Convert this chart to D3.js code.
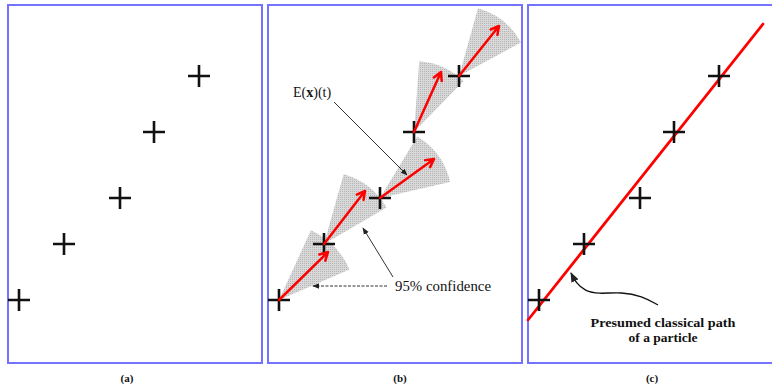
<!DOCTYPE html>
<html><head><meta charset="utf-8">
<script src="https://cdn.jsdelivr.net/npm/d3@7"></script>
<style>html,body{margin:0;padding:0;background:#fff;}svg{display:block;}</style>
</head><body>
<svg id="chart" width="772" height="386"></svg>
<script>
// ---- data (panel-local units: x to the right, y upward from panel bottom) ----
const panelLabels = ["(a)", "(b)", "(c)"];
const obsX = [11, 56, 112, 146, 191];
const obsY = [63, 119, 165, 231, 287];
// predicted next positions E(x)(t) (arrow tips) in panel (b)
const predX = [60, 97, 166, 173, 231];
const predY = [111, 172, 204, 291, 337];
// 95% confidence cone half-angles (degrees) and reach factor
const coneHalfAngle = [21, 22, 23, 20, 23];
const coneReach = [1.12, 1.08, 1.08, 1.08, 1.1];
// presumed classical path (panel c)
const pathX = [0, 235];
const pathY = [43, 339];
// annotation anchors (panel b / c local units)
const eLabel = {text: "E(x)(t)", x: 25, y: 266};
const eLeader = {x: [66, 139], y: [261, 188]};
const confLabel = {text: "95% confidence", x: 127, y: 72};
const confLeaderH = {x: [119, 45], y: [77, 77]};
const confLeaderD = {x: [125, 95], y: [86, 135]};
const curveX = [130, 114, 94, 70, 57, 48, 43];
const curveY = [58, 67, 71, 69, 72, 80, 90];
const captionLines = ["Presumed classical path", "of a particle"];
const captionWidths = [145, 69];

// ---- layout ----
const svg = d3.select("#chart");
const panelLeft = [8, 268, 528];
const panelW = 254, panelTop = 5, panelH = 358;
const x = d3.scaleLinear().domain([0, 254]).range([0, panelW]);
const y = d3.scaleLinear().domain([0, 358]).range([panelH, 0]);

const defs = svg.append("defs");
const pat = defs.append("pattern").attr("id", "stip").attr("width", 2).attr("height", 2)
  .attr("patternUnits", "userSpaceOnUse");
pat.append("rect").attr("width", 2).attr("height", 2).attr("fill", "#d9d9d9");
pat.append("rect").attr("width", 1).attr("height", 1).attr("fill", "#b4b4b4");
defs.append("marker").attr("id", "ah").attr("viewBox", "0 0 10 10").attr("refX", 9).attr("refY", 5)
  .attr("markerWidth", 7).attr("markerHeight", 7).attr("orient", "auto-start-reverse")
  .append("path").attr("d", "M0,1 L10,5 L0,9 z").attr("fill", "#222");

const panels = panelLeft.map((l, i) => svg.append("g").attr("transform", `translate(${l},${panelTop})`));

panels.forEach((g, i) => {
  g.append("rect").attr("x", 0).attr("y", 0).attr("width", panelW).attr("height", panelH)
    .attr("fill", "none").attr("stroke", "#7373ff").attr("stroke-width", 2);
  svg.append("text").attr("x", [127, 400, 652][i]).attr("y", 382)
    .attr("text-anchor", "middle").attr("font-family", "Liberation Serif")
    .attr("font-weight", "bold").attr("font-size", 11).attr("fill", "#111").text(panelLabels[i]);
});

function drawCrosses(g) {
  const s = 11;
  obsX.forEach((vx, i) => {
    const cx = x(vx), cy = y(obsY[i]);
    g.append("path").attr("d", `M${cx - s},${cy}H${cx + s}M${cx},${cy - s}V${cy + s}`)
      .attr("stroke", "#111").attr("stroke-width", 2.6).attr("fill", "none");
  });
}

// ---- panel (b): cones, arrows ----
const gb = panels[1];
obsX.forEach((vx, i) => {
  const ax = x(vx), ay = y(obsY[i]);
  const tx = x(predX[i]), ty = y(predY[i]);
  const th = Math.atan2(ty - ay, tx - ax);
  const L = Math.hypot(tx - ax, ty - ay);
  const R = L * coneReach[i];
  const h = coneHalfAngle[i] * Math.PI / 180;
  const p = d3.path();
  p.moveTo(ax, ay);
  p.lineTo(ax + R * Math.cos(th - h), ay + R * Math.sin(th - h));
  p.arc(ax, ay, R, th - h, th + h);
  p.closePath();
  gb.append("path").attr("d", p.toString()).attr("fill", "url(#stip)");
});
drawCrosses(gb);
obsX.forEach((vx, i) => {
  const ax = x(vx), ay = y(obsY[i]);
  const tx = x(predX[i]), ty = y(predY[i]);
  const th = Math.atan2(ty - ay, tx - ax);
  const hl = 9, ha = 0.5;
  gb.append("path")
    .attr("d", `M${ax},${ay}L${tx},${ty}M${tx - hl * Math.cos(th - ha)},${ty - hl * Math.sin(th - ha)}L${tx},${ty}L${tx - hl * Math.cos(th + ha)},${ty - hl * Math.sin(th + ha)}`)
    .attr("stroke", "#ff0000").attr("stroke-width", 2.5).attr("fill", "none")
    .attr("stroke-linecap", "round").attr("stroke-linejoin", "round");
});
// annotations in (b)
const et = gb.append("text").attr("x", x(eLabel.x)).attr("y", y(eLabel.y))
  .attr("font-family", "Liberation Serif").attr("font-size", 14).attr("fill", "#111");
et.append("tspan").text("E(");
et.append("tspan").attr("font-weight", "bold").text("x");
et.append("tspan").text(")(t)");
gb.append("line").attr("x1", x(eLeader.x[0])).attr("y1", y(eLeader.y[0]))
  .attr("x2", x(eLeader.x[1])).attr("y2", y(eLeader.y[1]))
  .attr("stroke", "#333").attr("stroke-width", 1).attr("marker-end", "url(#ah)");
gb.append("text").attr("x", x(confLabel.x)).attr("y", y(confLabel.y))
  .attr("font-family", "Liberation Serif").attr("font-size", 14).attr("fill", "#111")
  .attr("textLength", 96).attr("lengthAdjust", "spacingAndGlyphs").text(confLabel.text);
gb.append("line").attr("x1", x(confLeaderH.x[0])).attr("y1", y(confLeaderH.y[0]))
  .attr("x2", x(confLeaderH.x[1])).attr("y2", y(confLeaderH.y[1]))
  .attr("stroke", "#333").attr("stroke-width", 1).attr("stroke-dasharray", "3,1.5")
  .attr("marker-end", "url(#ah)");
gb.append("line").attr("x1", x(confLeaderD.x[0])).attr("y1", y(confLeaderD.y[0]))
  .attr("x2", x(confLeaderD.x[1])).attr("y2", y(confLeaderD.y[1]))
  .attr("stroke", "#333").attr("stroke-width", 1).attr("marker-end", "url(#ah)");

// ---- panel (a) ----
drawCrosses(panels[0]);

// ---- panel (c) ----
const gc = panels[2];
gc.append("line").attr("x1", x(pathX[0])).attr("y1", y(pathY[0]))
  .attr("x2", x(pathX[1])).attr("y2", y(pathY[1]))
  .attr("stroke", "#ff0000").attr("stroke-width", 2.8).attr("stroke-linecap", "round");
drawCrosses(gc);
const curvePts = curveX.map((v, i) => [x(v), y(curveY[i])]);
gc.append("path").attr("d", d3.line().curve(d3.curveBasis)(curvePts))
  .attr("fill", "none").attr("stroke", "#111").attr("stroke-width", 1.4).attr("marker-end", "url(#ah)");
captionLines.forEach((t, i) => {
  gc.append("text").attr("x", 135).attr("y", 322 + i * 15).attr("text-anchor", "middle")
    .attr("font-family", "Liberation Serif").attr("font-weight", "bold").attr("font-size", 13)
    .attr("textLength", captionWidths[i]).attr("lengthAdjust", "spacingAndGlyphs")
    .attr("fill", "#111").text(t);
});
</script>
</body></html>
